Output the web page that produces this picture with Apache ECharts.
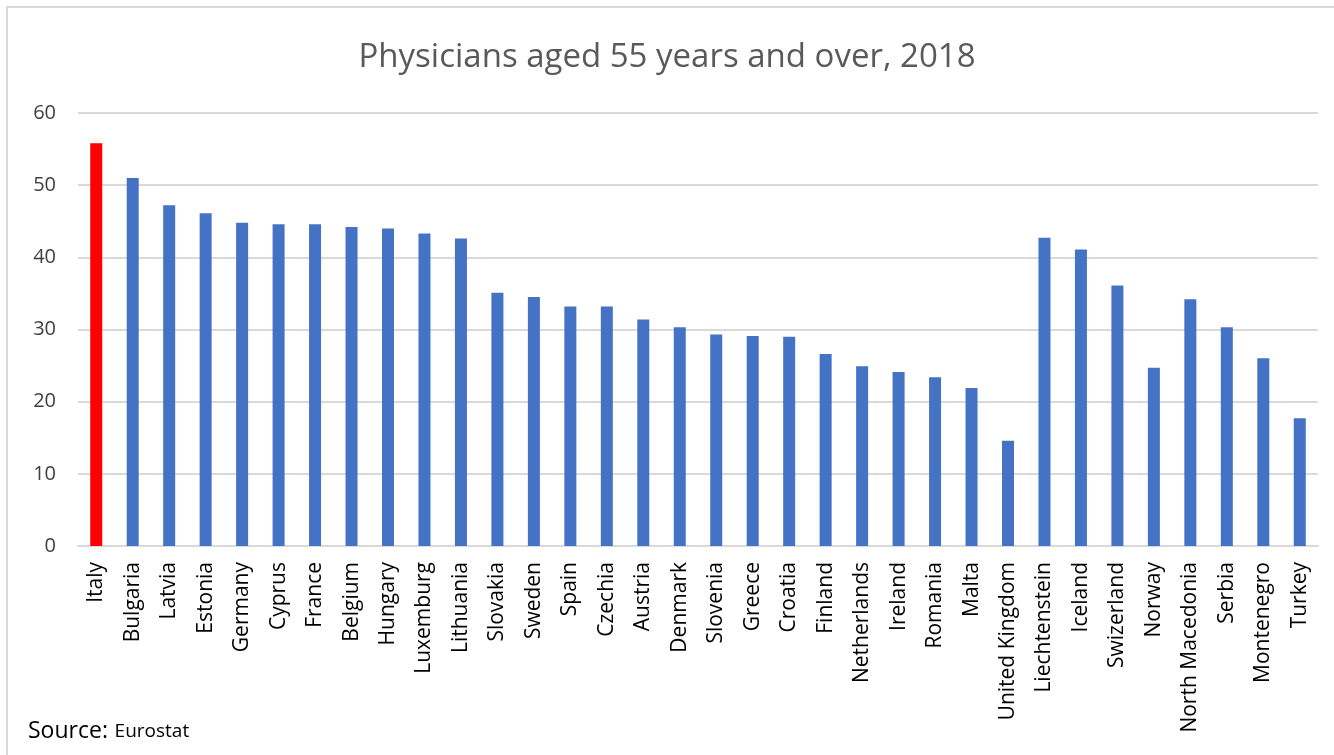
<!DOCTYPE html>
<html>
<head>
<meta charset="utf-8">
<script src="https://cdn.jsdelivr.net/npm/echarts@6/dist/echarts.min.js"></script>
<style>
  html, body { margin: 0; padding: 0; background: #fff; }
  #chart { width: 1334px; height: 755px; }
</style>
</head>
<body>
<div id="chart"></div>
<script>
// Data
const countries = [
  'Italy', 'Bulgaria', 'Latvia', 'Estonia', 'Germany', 'Cyprus', 'France', 'Belgium',
  'Hungary', 'Luxemburg', 'Lithuania', 'Slovakia', 'Sweden', 'Spain', 'Czechia', 'Austria',
  'Denmark', 'Slovenia', 'Greece', 'Croatia', 'Finland', 'Netherlands', 'Ireland', 'Romania',
  'Malta', 'United Kingdom', 'Liechtenstein', 'Iceland', 'Swizerland', 'Norway',
  'North Macedonia', 'Serbia', 'Montenegro', 'Turkey'
]
const shares = [
  55.8, 51.0, 47.2, 46.1, 44.8, 44.6, 44.6, 44.2,
  44.0, 43.3, 42.6, 35.1, 34.5, 33.2, 33.2, 31.4,
  30.3, 29.3, 29.1, 29.0, 26.6, 24.9, 24.1, 23.4,
  21.9, 14.6, 42.7, 41.1, 36.1, 24.7,
  34.2, 30.3, 26.0, 17.7
]
const highlighted = 'Italy'
const yTicks = [0, 10, 20, 30, 40, 50, 60]

const chart = echarts.init(document.getElementById('chart'))

const option = {
  backgroundColor: '#fff',
  animation: false,
  title: {
    text: 'Physicians aged 55 years and over, 2018',
    left: 'center',
    top: 36,
    textStyle: {
      fontFamily: 'Open Sans',
      fontWeight: 'normal',
      fontSize: 33,
      color: '#595959'
    }
  },
  grid: {
    left: 78,
    right: 16,
    top: 113,
    bottom: 209
  },
  xAxis: {
    type: 'category',
    data: countries,
    axisLine: { lineStyle: { color: '#d9d9d9', width: 2 } },
    axisTick: { show: false },
    axisLabel: {
      rotate: 90,
      interval: 0,
      margin: 16,
      color: '#000',
      fontFamily: 'Open Sans',
      fontSize: 21
    }
  },
  yAxis: {
    type: 'value',
    min: yTicks[0],
    max: yTicks[yTicks.length - 1],
    interval: 10,
    axisLine: { show: false },
    axisTick: { show: false },
    splitLine: { lineStyle: { color: '#d9d9d9', width: 2 } },
    axisLabel: {
      margin: 22,
      color: '#404040',
      fontFamily: 'Open Sans',
      fontSize: 20
    }
  },
  series: [
    {
      type: 'bar',
      barWidth: 12,
      data: shares.map((v, i) => ({
        value: v,
        itemStyle: { color: countries[i] === highlighted ? '#ff0000' : '#4472c4' }
      }))
    }
  ],
  graphic: [
    {
      type: 'rect',
      shape: { x: 7, y: 7, width: 1340, height: 760 },
      style: { fill: 'none', stroke: '#d9d9d9', lineWidth: 2 },
      silent: true,
      z: -1
    },
    {
      type: 'text',
      left: 28,
      top: 720,
      style: {
        text: '{a|Source:}  {b|Eurostat}',
        rich: {
          a: { fontFamily: 'Open Sans', fontSize: 23, fill: '#000' },
          b: { fontFamily: 'Open Sans', fontSize: 19, fill: '#000' }
        }
      }
    }
  ]
}

chart.setOption(option)
</script>
</body>
</html>
